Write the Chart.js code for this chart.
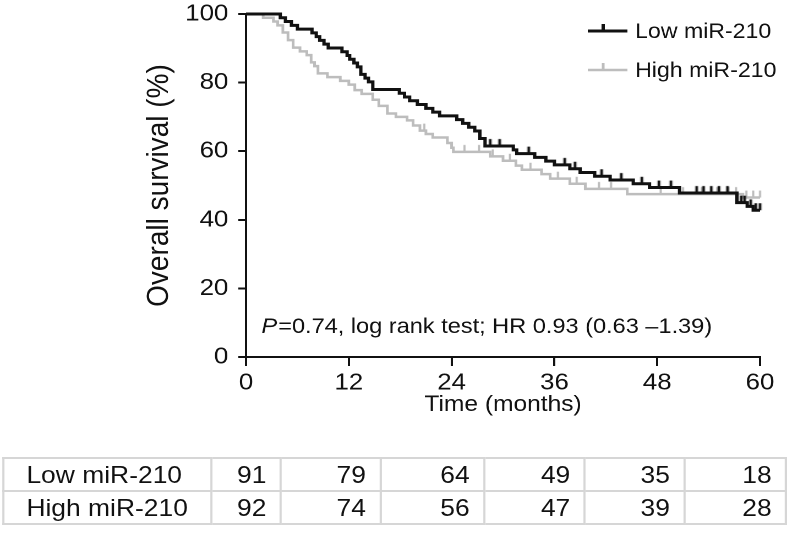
<!DOCTYPE html>
<html>
<head>
<meta charset="utf-8">
<script src="https://cdn.jsdelivr.net/npm/chart.js@4.4.1/dist/chart.umd.min.js"></script>
<style>
body { margin: 0; background: #fff; overflow: hidden; }
/* the reference type is a little wide, so the figure is drawn narrower and stretched sideways */
#wrap { position: relative; width: 715px; height: 543px; transform: scaleX(1.1007); transform-origin: 0 0; }
#chart { position: absolute; left: 0; top: 0; }
#risk { position: absolute; left: 2px; top: 457px; border-collapse: collapse;
        font-family: "Liberation Sans", Arial, sans-serif; font-size: 24px; color: #111; }
#risk td { border: 2px solid #d6d6d6; height: 31px; padding: 0 12px 0 0; text-align: right; }
#risk td.lab { text-align: left; padding-left: 20px; }
</style>
</head>
<body>
<div id="wrap">
  <canvas id="chart" width="715" height="543"></canvas>
  <table id="risk"></table>
</div>
<script>
// Kaplan-Meier steps (months, % surviving)
var lowTimes = [0, 4.0, 4.6, 5.3, 6.0, 7.7, 8.2, 8.6, 9.1, 9.6, 11.2, 11.8, 12.1, 12.6, 13.0, 13.4, 13.9, 14.3, 14.8,
    17.9, 18.5, 19.1, 20.0, 21.0, 21.8, 22.6, 24.6, 25.3, 26.0, 26.7, 27.3, 27.9, 31.2, 31.6, 33.7, 35.0, 36.0,
    37.8, 39.0, 40.7, 42.5, 45.2, 47.1, 50.6, 57.3, 58.5, 59.2, 60];
var lowSurv = [100, 98.9, 97.8, 96.7, 95.6, 94.5, 93.4, 92.3, 91.2, 90.1, 89.0, 87.9, 86.8, 85.7, 84.6, 82.4, 81.3, 80.2, 78.0,
    76.9, 75.8, 74.7, 73.6, 72.5, 71.4, 70.3, 69.2, 68.1, 67.0, 65.9, 63.7, 61.5, 60.4, 59.3, 58.2, 57.1, 56.0,
    54.9, 53.8, 52.7, 51.6, 50.5, 49.4, 47.8, 45.0, 43.9, 42.8, 42.8];
var lowCensor = [28.5, 29.6, 33.0, 37.2, 38.4, 41.5, 43.8, 46.2, 48.2, 49.6, 52.6, 53.4, 54.3, 55.2, 56.2, 57.8, 58.2, 58.9, 59.5, 60];

var highTimes = [0, 2.0, 3.2, 3.7, 4.3, 4.9, 5.5, 6.3, 7.1, 7.6, 8.0, 8.4, 9.5, 11.0, 12.0, 12.7, 13.5, 14.8, 15.5, 16.5,
    17.5, 18.8, 19.5, 20.3, 21.0, 21.8, 23.5, 24.0, 24.2, 28.5, 30.0, 31.5, 32.2, 34.5, 35.5, 37.8, 39.6, 44.5, 58.0, 60];
var highSurv = [100, 98.9, 97.8, 96.7, 94.6, 92.4, 90.2, 89.1, 88.0, 85.9, 84.8, 82.7, 81.6, 80.5, 79.4, 77.8, 76.7, 75.0, 73.2, 71.0,
    70.0, 69.0, 67.5, 66.0, 65.0, 64.0, 62.4, 61.0, 59.8, 58.5, 57.2, 55.8, 54.6, 53.3, 52.0, 50.5, 49.0, 47.5, 46.5, 46.5];
var highCensor = [20.8, 25.5, 27.2, 28.8, 30.8, 33.2, 36.4, 38.6, 41.2, 42.6, 48.4, 51.0, 53.2, 55.0, 56.3, 57.2, 58.4, 59.2, 60];

// axis ticks and numbers at risk
var xTicks = [0, 12, 24, 36, 48, 60];
var yTicks = [0, 20, 40, 60, 80, 100];
var groups = ['Low miR-210', 'High miR-210'];
var riskLow = [91, 79, 64, 49, 35, 18];
var riskHigh = [92, 74, 56, 47, 39, 28];

var FONT = '"Liberation Sans", Arial, sans-serif';
var BLACK = '#111';
var GREY = '#bdbdbd';

function toPoints(times, surv) {
    return times.map(function (t, i) { return { x: t, y: surv[i] }; });
}

// value of the step curve at time t
function survAt(times, surv, t) {
    var v = surv[0];
    for (var i = 0; i < times.length; i++) {
        if (times[i] <= t) v = surv[i];
    }
    return v;
}

function censorPoints(cens, times, surv) {
    return cens.map(function (t) { return { x: t, y: survAt(times, surv, t) }; });
}

// small upward tick used as censor mark
function tickMark(color, w) {
    var c = document.createElement('canvas');
    c.width = 6; c.height = 18;
    var g = c.getContext('2d');
    g.strokeStyle = color;
    g.lineWidth = w;
    g.beginPath();
    g.moveTo(3, 2);
    g.lineTo(3, 9);
    g.stroke();
    return c;
}

var extras = {
    id: 'extras',
    afterDraw: function (chart) {
        var ctx = chart.ctx;
        var a = chart.chartArea;
        ctx.save();

        // legend, top right
        var rows = [{ c: BLACK, w: 3, y: 31 }, { c: GREY, w: 2.5, y: 70 }];
        ctx.font = '21px ' + FONT;
        ctx.textBaseline = 'middle';
        rows.forEach(function (r, i) {
            ctx.strokeStyle = r.c;
            ctx.lineWidth = r.w;
            ctx.beginPath();
            ctx.moveTo(534, r.y); ctx.lineTo(570, r.y);
            ctx.moveTo(548, r.y); ctx.lineTo(548, r.y - 7);
            ctx.stroke();
            ctx.fillStyle = BLACK;
            ctx.fillText(groups[i], 577, r.y + 1);
        });

        // test result
        var x = a.left + 14, y = 327;
        ctx.font = 'italic 21.4px ' + FONT;
        ctx.fillText('P', x, y);
        x += ctx.measureText('P').width + 1;
        ctx.font = '21.4px ' + FONT;
        ctx.fillText('=0.74, log rank test; HR 0.93 (0.63 \u20131.39)', x, y);
        ctx.restore();
    }
};

new Chart(document.getElementById('chart'), {
    type: 'line',
    data: {
        datasets: [
            {
                label: groups[0],
                data: toPoints(lowTimes, lowSurv),
                stepped: true,
                borderColor: BLACK,
                borderWidth: 3,
                pointRadius: 0,
                clip: 6
            },
            {
                type: 'scatter',
                data: censorPoints(lowCensor, lowTimes, lowSurv),
                pointStyle: tickMark(BLACK, 2.5),
                pointRadius: 6,
                clip: 6
            },
            {
                label: groups[1],
                data: toPoints(highTimes, highSurv),
                stepped: true,
                borderColor: GREY,
                borderWidth: 2.5,
                pointRadius: 0,
                clip: 6
            },
            {
                type: 'scatter',
                data: censorPoints(highCensor, highTimes, highSurv),
                pointStyle: tickMark(GREY, 2),
                pointRadius: 6,
                clip: 6
            }
        ]
    },
    options: {
        responsive: false,
        devicePixelRatio: 2,
        animation: false,
        layout: { padding: { left: 0, top: 14, right: 24.5, bottom: 116 } },
        plugins: { legend: { display: false }, tooltip: { enabled: false } },
        scales: {
            x: {
                type: 'linear',
                min: 0,
                max: 60,
                afterFit: function (s) { s.height = 70; s.paddingLeft = 0; s.paddingRight = 0; },
                afterBuildTicks: function (s) { s.ticks = xTicks.map(function (v) { return { value: v }; }); },
                grid: { drawOnChartArea: false, drawTicks: true, tickLength: 9, color: BLACK, lineWidth: 2 },
                border: { color: BLACK, width: 2 },
                ticks: { color: BLACK, padding: 3, maxRotation: 0, font: { family: FONT, size: 23.5 } },
                title: { display: true, text: 'Time (months)', color: BLACK, padding: { top: 0, bottom: 9 },
                         font: { family: FONT, size: 22.3 } }
            },
            y: {
                min: 0,
                max: 100,
                afterFit: function (s) { s.width = 223.5; s.paddingTop = 0; s.paddingBottom = 0; },
                afterBuildTicks: function (s) { s.ticks = yTicks.map(function (v) { return { value: v }; }); },
                grid: { drawOnChartArea: false, drawTicks: true, tickLength: 7, color: BLACK, lineWidth: 2 },
                border: { color: BLACK, width: 2 },
                ticks: { color: BLACK, padding: 9, font: { family: FONT, size: 23.5 } },
                title: { display: true, text: 'Overall survival (%)', color: BLACK, padding: { top: 128, bottom: 0 },
                         font: { family: FONT, size: 28 } }
            }
        }
    },
    plugins: [extras]
});

// numbers at risk table
var table = document.getElementById('risk');
var widths = [182, 63, 92, 96, 93, 92, 94];
[riskLow, riskHigh].forEach(function (vals, r) {
    var tr = document.createElement('tr');
    var td = document.createElement('td');
    td.className = 'lab';
    td.style.width = (widths[0] - 20) + 'px';
    td.textContent = groups[r];
    tr.appendChild(td);
    vals.forEach(function (v, i) {
        var cell = document.createElement('td');
        cell.style.width = (widths[i + 1] - 12) + 'px';
        cell.textContent = v;
        tr.appendChild(cell);
    });
    table.appendChild(tr);
});
</script>
</body>
</html>
